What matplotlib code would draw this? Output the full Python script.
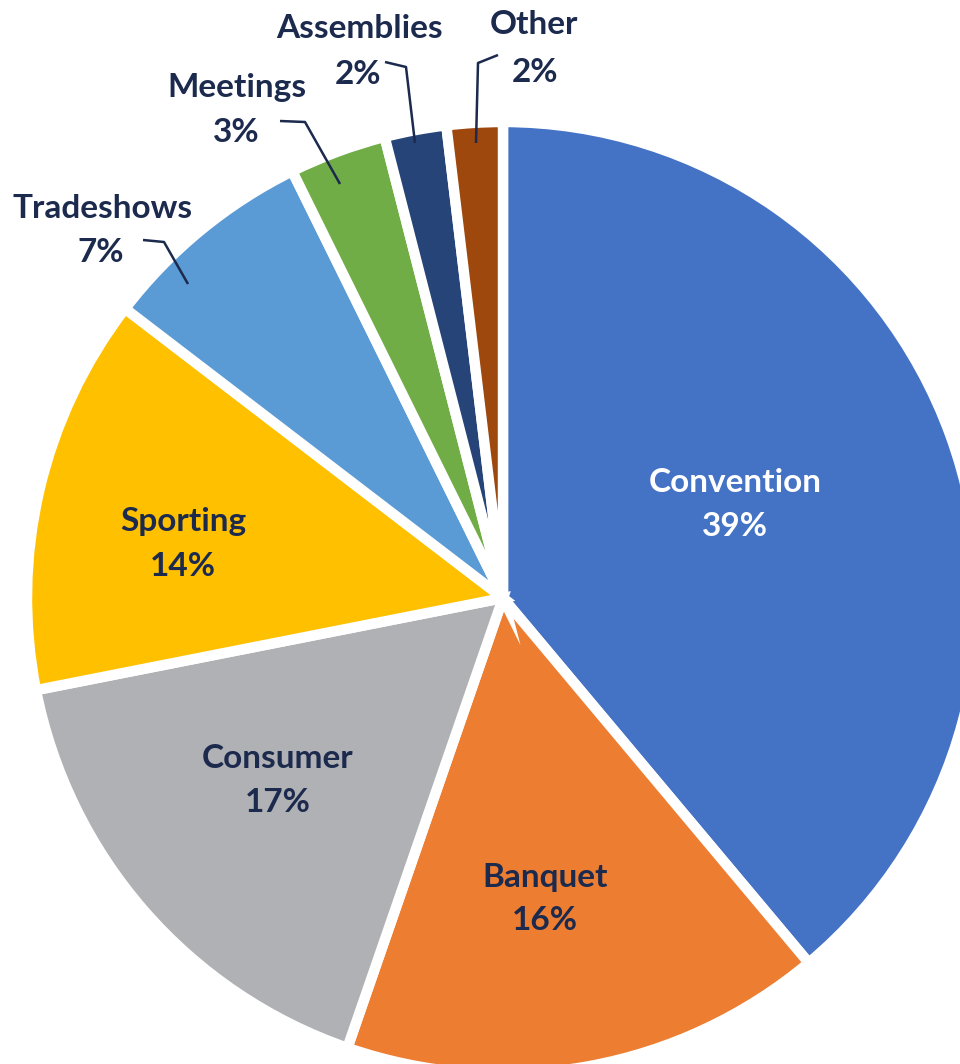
import matplotlib
matplotlib.use("Agg")
import matplotlib.pyplot as plt

categories = ["Convention", "Banquet", "Consumer", "Sporting", "Tradeshows", "Meetings", "Assemblies", "Other"]
shares = [38.9, 16.4, 16.6, 13.5, 7.3, 3.3, 2.1, 1.9]
pct_labels = ["39%", "16%", "17%", "14%", "7%", "3%", "2%", "2%"]
colors = ["#4472C4", "#ED7D31", "#B0B1B4", "#FFC000", "#5B9BD5", "#70AD47", "#264478", "#9E480E"]

W, H = 960, 1064
fig = plt.figure(figsize=(W / 100, H / 100), dpi=100)
ax = fig.add_axes([0, 0, 1, 1])

cx, cy, r = 503, H - 598, 476
ax.pie(shares, colors=colors, startangle=90, counterclock=False,
       center=(cx, cy), radius=r, frame=True,
       wedgeprops=dict(edgecolor="white", linewidth=7.5))
ax.set_xlim(0, W)
ax.set_ylim(0, H)
ax.set_aspect("equal")
ax.axis("off")

navy = "#1C2A4E"
font = ["Lato", "DejaVu Sans"]
fs = 24

# label positions in pixel coords (y measured from top)
inside = {
    "Convention": ((735, 483), (735, 527), "white"),
    "Banquet": ((545, 877), (545, 921), navy),
    "Consumer": ((278, 758), (278, 802), navy),
    "Sporting": ((183, 521), (183, 566), navy),
}
outside = {
    "Tradeshows": ((103, 208), (101, 253), [(143, 240), (164, 242), (188, 284)]),
    "Meetings": ((237, 88), (236, 133), [(280, 121), (305, 122), (340, 184)]),
    "Assemblies": ((359, 28), (358, 75), [(385, 62), (406, 67), (415, 143)]),
    "Other": ((534, 24), (535, 72), [(498, 55), (478, 63), (476, 143)]),
}

for name, lab in zip(categories, pct_labels):
    if name in inside:
        (x1, y1), (x2, y2), c = inside[name]
    else:
        (x1, y1), (x2, y2), pts = outside[name]
        c = navy
        ax.plot([p[0] for p in pts], [H - p[1] for p in pts], color=navy,
                linewidth=1.8, solid_capstyle="butt")
    ax.text(x1, H - y1, name, ha="center", va="center", fontsize=fs,
            fontweight="bold", color=c, family=font)
    ax.text(x2, H - y2, lab, ha="center", va="center", fontsize=fs,
            fontweight="bold", color=c, family=font)

fig.savefig("out.png", dpi=100)
